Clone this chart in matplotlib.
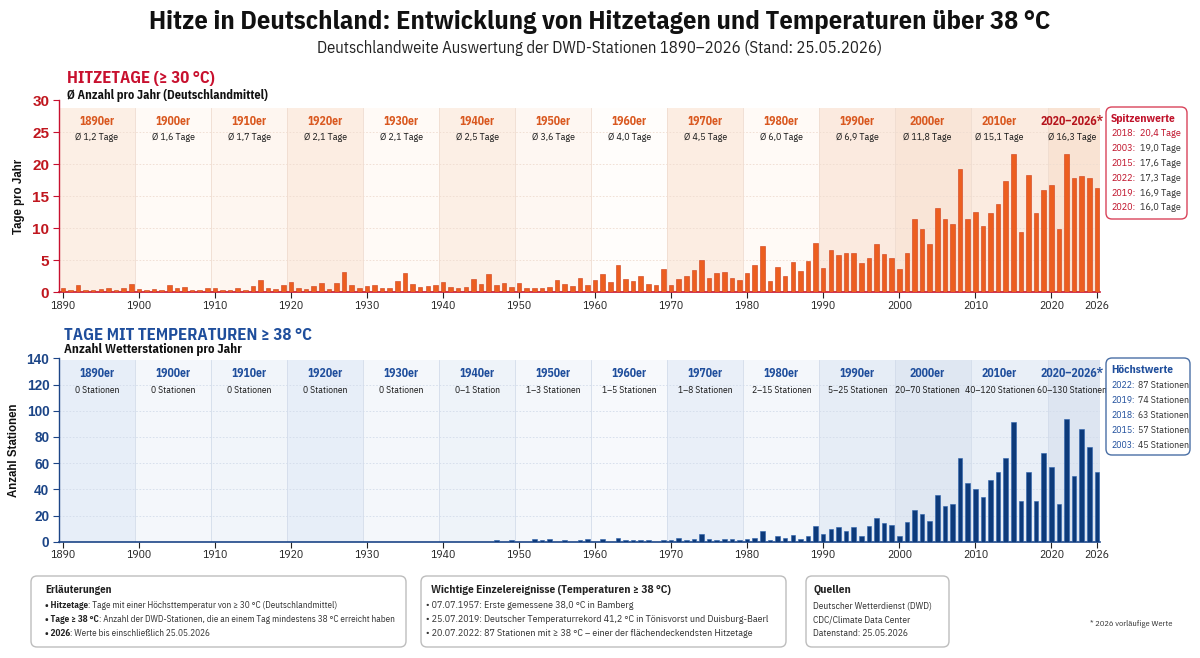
import numpy as np
import matplotlib.pyplot as plt
from matplotlib.patches import FancyBboxPatch, Rectangle

NARROW = ['IBM Plex Sans Condensed', 'Liberation Sans', 'DejaVu Sans']
ARIAL = ['Liberation Sans', 'DejaVu Sans']
plt.rcParams['font.family'] = NARROW

# ===== Daten =====
years = np.arange(1890, 2027)

# Hitzetage (>= 30 °C), Deutschlandmittel pro Jahr
hitzetage = [
    0.7, 0.4, 1.1, 0.3, 0.3, 0.5, 0.6, 0.3, 0.7, 1.3,    # 1890er
    0.5, 0.4, 0.5, 0.3, 1.2, 0.6, 0.9, 0.4, 0.3, 0.7,    # 1900er
    0.6, 0.3, 0.4, 0.6, 0.4, 1.0, 1.9, 0.6, 0.5, 1.2,    # 1910er
    1.6, 0.7, 0.5, 1.0, 1.4, 0.5, 1.4, 3.2, 1.1, 0.7,    # 1920er
    1.0, 1.2, 0.6, 0.6, 1.7, 3.0, 1.3, 0.8, 1.0, 1.1,    # 1930er
    1.6, 0.8, 0.7, 0.8, 2.1, 1.3, 2.9, 1.2, 1.5, 0.8,    # 1940er
    1.5, 0.6, 0.7, 0.6, 0.9, 1.9, 1.3, 1.0, 2.2, 1.2,    # 1950er
    1.9, 2.9, 1.6, 4.3, 2.1, 1.7, 2.6, 1.3, 1.1, 3.6,    # 1960er
    1.2, 2.1, 2.5, 3.5, 5.0, 2.3, 3.0, 3.1, 2.3, 1.9,    # 1970er
    3.0, 4.2, 7.3, 1.8, 3.9, 2.6, 4.8, 3.3, 4.9, 7.7,    # 1980er
    3.8, 6.6, 5.8, 6.2, 6.2, 4.6, 5.3, 7.5, 5.9, 5.4,    # 1990er
    3.7, 6.2, 11.5, 9.9, 7.6, 13.2, 11.5, 10.6, 19.3, 11.5,   # 2000er
    12.5, 10.3, 12.4, 13.8, 17.4, 21.5, 9.4, 18.3, 12.3, 16.0,  # 2010er
    16.7, 9.9, 21.5, 17.8, 18.1, 17.8, 16.3,             # 2020-2026
]

# Anzahl Stationen mit >= 38 °C pro Jahr
stationen_38 = [
    0, 0, 0, 0, 0, 0, 0, 0, 0, 0,
    0, 0, 0, 0, 0, 0, 0, 0, 0, 0,
    0, 0, 0, 0, 0, 0, 0, 0, 0, 0,
    0, 0, 0, 0, 0, 0, 0, 0, 0, 0,
    0, 0, 0, 0, 0, 0, 0, 0, 0, 0,
    0, 0, 0, 0, 0, 0, 0, 1, 0, 1,
    0, 0, 2, 1, 2, 0, 1, 0, 1, 2,
    0, 2, 0, 3, 1, 1, 1, 1, 0, 1,
    1, 3, 1, 2, 6, 2, 1, 2, 2, 1,
    2, 3, 8, 1, 4, 3, 5, 2, 4, 12,
    6, 10, 11, 8, 11, 4, 12, 18, 14, 13,
    4, 15, 24, 21, 16, 36, 27, 29, 64, 45,
    40, 34, 47, 53, 64, 91, 31, 53, 31, 68,
    57, 29, 94, 50, 86, 72, 53,
]

dekaden_start = [1890, 1900, 1910, 1920, 1930, 1940, 1950, 1960, 1970,
                 1980, 1990, 2000, 2010, 2020]
dekaden = ['1890er', '1900er', '1910er', '1920er', '1930er', '1940er', '1950er',
           '1960er', '1970er', '1980er', '1990er', '2000er', '2010er', '2020–2026*']
hitze_mittel = ['Ø 1,2 Tage', 'Ø 1,6 Tage', 'Ø 1,7 Tage', 'Ø 2,1 Tage', 'Ø 2,1 Tage',
                'Ø 2,5 Tage', 'Ø 3,6 Tage', 'Ø 4,0 Tage', 'Ø 4,5 Tage', 'Ø 6,0 Tage',
                'Ø 6,9 Tage', 'Ø 11,8 Tage', 'Ø 15,1 Tage', 'Ø 16,3 Tage']
stationen_spanne = ['0 Stationen', '0 Stationen', '0 Stationen', '0 Stationen',
                    '0 Stationen', '0–1 Station', '1–3 Stationen', '1–5 Stationen',
                    '1–8 Stationen', '2–15 Stationen', '5–25 Stationen',
                    '20–70 Stationen', '40–120 Stationen', '60–130 Stationen']

spitzen_jahre = ['2018:', '2003:', '2015:', '2022:', '2019:', '2020:']
spitzen_werte = ['20,4 Tage', '19,0 Tage', '17,6 Tage', '17,3 Tage', '16,9 Tage', '16,0 Tage']
hoechst_jahre = ['2022:', '2019:', '2018:', '2015:', '2003:']
hoechst_werte = ['87 Stationen', '74 Stationen', '63 Stationen', '57 Stationen', '45 Stationen']

xticks = [1890, 1900, 1910, 1920, 1930, 1940, 1950, 1960, 1970, 1980, 1990,
          2000, 2010, 2020, 2026]

erlaeuterungen = [('Hitzetage', ': Tage mit einer Höchsttemperatur von ≥ 30 °C (Deutschlandmittel)'),
                  ('Tage ≥ 38 °C', ': Anzahl der DWD-Stationen, die an einem Tag mindestens 38 °C erreicht haben'),
                  ('2026', ': Werte bis einschließlich 25.05.2026')]
ereignisse = ['• 07.07.1957: Erste gemessene 38,0 °C in Bamberg',
              '• 25.07.2019: Deutscher Temperaturrekord 41,2 °C in Tönisvorst und Duisburg-Baerl',
              '• 20.07.2022: 87 Stationen mit ≥ 38 °C – einer der flächendeckendsten Hitzetage']
quellen = ['Deutscher Wetterdienst (DWD)', 'CDC/Climate Data Center', 'Datenstand: 25.05.2026']

# ===== Farben =====
ROT = '#c8102e'
ORANGE = '#d9581f'
BLAU = '#1c4587'
NAVY = '#0d3a7a'

XMIN, XMAX = 1889.5, 2026.4

fig = plt.figure(figsize=(12, 6.58), dpi=100, facecolor='white')

ax1 = fig.add_axes([59 / 1200, 1 - 292.3 / 658, 1041 / 1200, 192.3 / 658])
ax2 = fig.add_axes([59 / 1200, 1 - 541.7 / 658, 1041 / 1200, 183.4 / 658])

top_bands = ['#fcefe5', '#fffaf6', '#fef6f0', '#fcede2', '#fffaf6', '#fcefe5', '#fef7f2',
             '#fffdfb', '#fcede2', '#fffaf6', '#fbeadf', '#f9e5d7', '#fbebe0', '#f9e3d3']
bot_bands = ['#e7eef8', '#f4f7fb', '#f1f5fa', '#e7eef8', '#f4f7fb', '#eef3f9', '#f4f7fb',
             '#f7f9fc', '#e9eff8', '#f4f7fb', '#e6edf6', '#dfe7f2', '#e9eff7', '#dde5f1']

# Etikettenposition je Dekade (die letzten etwas verschoben, damit nichts kollidiert)
label_shift = [0] * 11 + [-0.8, -1.3, -0.2]


def panel(ax, values, ymax, ystep, band_cols, band_top, fc, ec, spine_col,
          tick_col, head_col, last_col, subtexts, sub_size, y_head, y_sub, ylabel,
          grid_col, ytick_size):
    starts = [s - 0.5 for s in dekaden_start] + [XMAX]
    for i in range(len(dekaden)):
        ax.add_patch(Rectangle((starts[i], 0), starts[i + 1] - starts[i], band_top,
                               facecolor=band_cols[i], edgecolor='none', zorder=0))
        if i > 0:
            ax.plot([starts[i]] * 2, [0, band_top], color=grid_col, lw=0.6, zorder=1)
        xc = (starts[i] + starts[i + 1]) / 2 + label_shift[i]
        col = head_col if i < len(dekaden) - 1 else last_col
        ax.text(xc, y_head, dekaden[i], ha='center', va='center', fontsize=8.4,
                fontweight='bold', color=col, zorder=4)
        ax.text(xc, y_sub, subtexts[i], ha='center', va='center', fontsize=sub_size,
                color='#1a1a1a', zorder=4)
    for yv in np.arange(ystep, ymax, ystep):
        ax.axhline(yv, color=grid_col, lw=0.6, ls=(0, (2, 2)), zorder=1)
    ax.bar(years, values, width=0.6, color=fc, edgecolor=ec, linewidth=0.4, zorder=3)
    ax.set_xlim(XMIN, XMAX)
    ax.set_ylim(0, ymax)
    ax.set_yticks(np.arange(0, ymax + 1, ystep))
    ax.set_xticks(xticks)
    ax.tick_params(axis='y', colors=spine_col, labelsize=ytick_size, length=4, width=0.8, pad=3)
    ax.tick_params(axis='x', colors='#222222', labelsize=8.4, length=4, width=0.8, pad=2)
    for lab in ax.get_yticklabels():
        lab.set_fontweight('bold')
        lab.set_color(tick_col)
        lab.set_family(ARIAL)
    for s in ['top', 'right']:
        ax.spines[s].set_visible(False)
    ax.spines['left'].set_color(spine_col)
    ax.spines['bottom'].set_color(spine_col)
    ax.spines['left'].set_linewidth(1.0)
    ax.spines['bottom'].set_linewidth(1.2)
    ax.set_facecolor('none')
    ax.set_ylabel(ylabel, fontsize=8.3, fontweight='bold', color='#111111', labelpad=5,
                  family=ARIAL)


panel(ax1, hitzetage, 30, 5, top_bands, 28.8, '#ec5e1f', '#cf3c18', ROT, '#c0161e',
      ORANGE, '#b5121b', hitze_mittel, 7.1, 26.6, 24.15, 'Tage pro Jahr', '#efdcd0', 11)
panel(ax2, stationen_38, 140, 20, bot_bands, 138.5, NAVY, '#2d62ad', BLAU, BLAU,
      '#1f4e9c', '#1f4e9c', stationen_spanne, 6.8, 128.4, 115.3, 'Anzahl Stationen',
      '#d3dcea', 9.8)

# ===== Overlay in Pixelkoordinaten =====
ov = fig.add_axes([0, 0, 1, 1])
ov.set_xlim(0, 1200)
ov.set_ylim(658, 0)
ov.axis('off')
ov.patch.set_alpha(0)

ov.text(600, 22, 'Hitze in Deutschland: Entwicklung von Hitzetagen und Temperaturen über 38 °C',
        ha='center', va='center', fontsize=19, fontweight='bold', color='#111111')
ov.text(600, 48, 'Deutschlandweite Auswertung der DWD-Stationen 1890–2026 (Stand: 25.05.2026)',
        ha='center', va='center', fontsize=12, color='#222222')

ov.text(67, 79, 'HITZETAGE (≥ 30 °C)', ha='left', va='center', fontsize=12,
        fontweight='bold', color=ROT)
ov.text(67, 95, 'Ø Anzahl pro Jahr (Deutschlandmittel)', ha='left', va='center',
        fontsize=8.8, fontweight='bold', color='#111111')
ov.text(64, 336, 'TAGE MIT TEMPERATUREN ≥ 38 °C', ha='left', va='center', fontsize=12.1,
        fontweight='bold', color='#1f4e9c')
ov.text(64, 350, 'Anzahl Wetterstationen pro Jahr', ha='left', va='center',
        fontsize=9.2, fontweight='bold', color='#111111')


def rbox(x0, y0, x1, y1, ec, lw=1.0):
    ov.add_patch(FancyBboxPatch((x0, y0), x1 - x0, y1 - y0,
                                boxstyle='round,pad=0,rounding_size=6',
                                facecolor='white', edgecolor=ec, linewidth=lw, zorder=2))


# Spitzenwerte
rbox(1106, 107, 1187, 219, '#d9435a')
ov.text(1111, 119, 'Spitzenwerte', fontsize=8.2, fontweight='bold', color='#c0122a',
        va='center', zorder=3)
for i, (j, w) in enumerate(zip(spitzen_jahre, spitzen_werte)):
    y = 134 + i * 14.8
    ov.text(1111, y, j, fontsize=7.3, color='#c0122a', va='center', zorder=3)
    ov.text(1140, y, w, fontsize=7.3, color='#c0122a' if i == 0 else '#333333',
            va='center', zorder=3)

# Höchstwerte
rbox(1106, 358, 1190, 455, '#4a6fa5')
ov.text(1111, 370, 'Höchstwerte', fontsize=8.2, fontweight='bold', color='#1f4e9c',
        va='center', zorder=3)
for i, (j, w) in enumerate(zip(hoechst_jahre, hoechst_werte)):
    y = 385.7 + i * 15
    ov.text(1111, y, j, fontsize=7, color='#1f4e9c', va='center', zorder=3)
    ov.text(1138, y, w, fontsize=7, color='#333333', va='center', zorder=3)

# ===== Fußzeilen-Boxen =====
rbox(31, 576, 406, 647, '#bdbdbd')
ov.text(45, 590, 'Erläuterungen', fontsize=7.8, fontweight='bold', color='#222222',
        va='center', zorder=3)
for i, (b, r) in enumerate(erlaeuterungen):
    y = 606 + i * 13.5
    t = ov.text(45, y, '• ' + b, fontsize=6.6, fontweight='bold', color='#222222',
                va='center', zorder=3)
    ov.annotate(r, xy=(1, 0), xycoords=t, va='bottom', ha='left', fontsize=6.6,
                color='#333333', zorder=3)

rbox(421, 576, 786, 647, '#bdbdbd')
ov.text(431, 590, 'Wichtige Einzelereignisse (Temperaturen ≥ 38 °C)', fontsize=8.2,
        fontweight='bold', color='#222222', va='center', zorder=3)
for i, line in enumerate(ereignisse):
    ov.text(426, 606 + i * 13.5, line, fontsize=7.1, color='#333333', va='center', zorder=3)

rbox(806, 576, 949, 647, '#bdbdbd')
ov.text(813, 590, 'Quellen', fontsize=8.2, fontweight='bold', color='#222222',
        va='center', zorder=3)
for i, line in enumerate(quellen):
    ov.text(813, 606 + i * 13.5, line, fontsize=6.8, color='#333333', va='center', zorder=3)

ov.text(1172, 624, '* 2026 vorläufige Werte', fontsize=6.1, color='#333333',
        ha='right', va='center')

fig.savefig('out.png', dpi=100, facecolor='white')
